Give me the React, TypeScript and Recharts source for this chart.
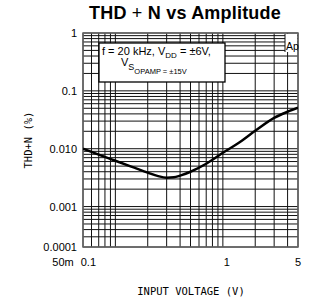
import React from 'react';
import { LineChart, Line, XAxis, YAxis, CartesianGrid, ReferenceArea } from 'recharts';

// input amplitude (V) and THD+N (%)
const amplitude = [0.05, 0.07, 0.1, 0.15, 0.2, 0.25, 0.3, 0.35, 0.4, 0.5, 0.7, 1, 1.5, 2, 3, 4, 5];
const thdN = [0.01, 0.0079, 0.0062, 0.0047, 0.00386, 0.00336, 0.00316, 0.0032, 0.00342, 0.004, 0.0055, 0.0085, 0.0137, 0.0204, 0.0342, 0.0435, 0.051];

// log grid lines
const xGrid = [0.05, 0.06, 0.07, 0.08, 0.09, 0.1, 0.2, 0.3, 0.4, 0.5, 0.6, 0.7, 0.8, 0.9, 1, 2, 3, 4, 5];
const yGrid = [
    0.0002, 0.0003, 0.0004, 0.0005, 0.0006, 0.0007, 0.0008, 0.0009,
    0.001, 0.002, 0.003, 0.004, 0.005, 0.006, 0.007, 0.008, 0.009,
    0.01, 0.02, 0.03, 0.04, 0.05, 0.06, 0.07, 0.08, 0.09,
    0.1, 0.2, 0.3, 0.4, 0.5, 0.6, 0.7, 0.8, 0.9, 1,
];

// labelled ticks
const xLabels: Record<string, string> = { '0.05': '50m', '0.1': '0.1', '1': '1', '5': '5' };
const yLabels: Record<string, string> = { '0.0002': '0.0001', '0.001': '0.001', '0.01': '0.010', '0.1': '0.1', '1': '1' };

const data = amplitude.map((v, i) => ({ v, thd: thdN[i] }));

// the source prints some x labels a little off their lines
const xNudge: Record<string, number> = { '50m': -20, '0.1': -27, '1': 4 };

const tickFont = { fontFamily: 'Liberation Sans, Arial, sans-serif', fontSize: 11, fill: '#000' };

const renderXTick = (props: any) => {
    const { x, y, payload } = props;
    const label = xLabels[String(payload.value)];
    if (!label) return <g key={`xt-${payload.value}`} />;
    return (
        <text key={`xt-${payload.value}`} x={x + (xNudge[label] || 0)} y={y + 15} textAnchor="middle" dominantBaseline="central" {...tickFont}>
            {label}
        </text>
    );
};

const renderYTick = (props: any) => {
    const { x, y, payload } = props;
    const label = yLabels[String(payload.value)];
    if (!label) return <g key={`yt-${payload.value}`} />;
    return (
        <text key={`yt-${payload.value}`} x={x - 6} y={y} textAnchor="end" dominantBaseline="central" {...tickFont}>
            {label}
        </text>
    );
};

const App: React.FC = () => {
    const mono = 'DejaVu Sans Mono, monospace';
    return (
        <div style={{ position: 'absolute', left: 0, top: 0, width: 317, height: 301, background: '#fff' }}>
            <LineChart width={317} height={301} data={data} margin={{ top: 33, right: 19, bottom: 34, left: 23 }}>
                <CartesianGrid stroke="#111" strokeWidth={1} />
                <XAxis
                    dataKey="v"
                    type="number"
                    scale="log"
                    domain={[0.05, 5]}
                    ticks={xGrid}
                    interval={0}
                    height={20}
                    axisLine={false}
                    tickLine={false}
                    tickSize={0}
                    tickMargin={0}
                    tick={renderXTick}
                    allowDataOverflow
                />
                <YAxis
                    type="number"
                    scale="log"
                    domain={[0.0002, 1]}
                    ticks={yGrid}
                    interval={0}
                    width={60}
                    axisLine={false}
                    tickLine={false}
                    tickSize={0}
                    tickMargin={0}
                    tick={renderYTick}
                    allowDataOverflow
                />
                <ReferenceArea x1={0.05} x2={5} y1={0.0002} y2={1} fill="none" stroke="#666" strokeWidth={1.5} />
                <Line
                    dataKey="thd"
                    type="monotone"
                    stroke="#000"
                    strokeWidth={2.5}
                    dot={false}
                    isAnimationActive={false}
                />
            </LineChart>
            <svg width={317} height={301} style={{ position: 'absolute', left: 0, top: 0, pointerEvents: 'none' }}>
                <text x={185} y={19} textAnchor="middle" fontFamily="Liberation Sans, Arial, sans-serif" fontSize={18} letterSpacing={0.2} fontWeight="bold">
                    THD <tspan fontWeight="normal">+</tspan> N vs Amplitude
                </text>
                <rect x={99} y={43} width={126} height={39} fill="#fff" stroke="#000" strokeWidth={1.3} />
                <text x={102} y={55} fontFamily="Liberation Sans, Arial, sans-serif" fontSize={11}>
                    f = 20 kHz,  V<tspan fontSize={8} dy={3}>DD</tspan><tspan dy={-3}> = ±6V,</tspan>
                </text>
                <text x={121} y={66} fontFamily="Liberation Sans, Arial, sans-serif" fontSize={11}>
                    V<tspan fontSize={9} dy={4}>S</tspan><tspan fontSize={7.5} dy={4}>OPAMP</tspan><tspan fontSize={7.5}> = ±15V</tspan>
                </text>
                <rect x={285} y={34} width={12} height={18} fill="#fff" />
                <line x1={285} y1={34} x2={285} y2={52} stroke="#111" strokeWidth={1} />
                <text x={286} y={50} fontFamily="Liberation Sans, Arial, sans-serif" fontSize={10.5}>Ap</text>
                <text
                    x={28}
                    y={140}
                    textAnchor="middle"
                    dominantBaseline="central"
                    transform="rotate(-90 28 140)"
                    fontFamily={mono}
                    fontSize={10.5}
                >
                    THD+N (%)
                </text>
                <text x={191} y={291} textAnchor="middle" dominantBaseline="central" fontFamily={mono} fontSize={10.5}>
                    INPUT VOLTAGE (V)
                </text>
            </svg>
        </div>
    );
};

export default App;
